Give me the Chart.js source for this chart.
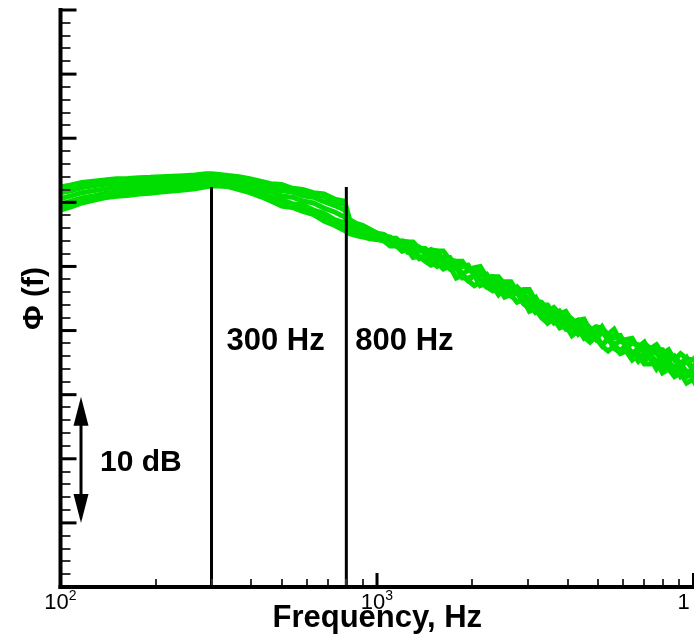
<!DOCTYPE html>
<html><head><meta charset="utf-8">
<script src="https://cdn.jsdelivr.net/npm/chart.js@4.4.1/dist/chart.umd.min.js"></script>
<style>html,body{margin:0;padding:0;background:#fff;overflow:hidden}#wrap{width:694px;height:640px;position:relative}</style>
</head><body><div id="wrap"><canvas id="c" width="694" height="640"></canvas></div>
<script>
// ---- data ----
const freqs = [100,108,117,127,138,150,163,177,192,208,226,245,266,288,300,312,338,366,396,428,462,500,540,583,630,680,735,790,820,860,900,950,
  1000,1050,1100,1150,1200,1250,1300,1360,1420,1480,1550,1620,1700,1780,1860,1940,2030,2120,2220,2320,2420,2530,2650,2770,2900,
  3030,3170,3310,3460,3620,3780,3950,4130,4320,4510,4710,4920,5140,5370,5610,5870,6130,6400,6690,6990,7310,7640,7980,8340,8710,9100,9510,9940,10200];
const runA = [31.2,31.35,31.55,31.65,31.75,31.83,31.86,31.92,31.95,32.0,32.04,32.08,32.14,32.22,32.23,32.2,32.1,32.0,31.85,31.65,31.45,31.4,31.1,31.0,30.75,30.65,30.25,30.1,28.65,28.35,28.2,27.9,
  27.6,27.5,27.2,27.2,26.8,26.9,26.9,26.4,26.4,26.0,26.2,26.2,25.5,25.4,25.4,24.7,24.9,25.0,24.2,24.2,24.2,23.6,23.7,23.0,23.2,23.2,22.3,22.2,21.5,21.8,
  21.3,21.5,20.7,20.8,20.9,20.0,20.3,20.2,19.7,20.1,19.2,19.3,19.4,18.6,19.0,18.6,18.9,18.2,18.5,17.7,18.2,17.8,17.7,18.0];
const runF = [31.0,31.1,31.3,31.5,31.55,31.7,31.7,31.75,31.8,31.85,31.9,31.95,32.0,32.1,32.1,32.1,32.0,31.9,31.7,31.5,31.3,31.2,30.9,30.85,30.45,30.5,29.9,29.9,28.5,28.25,28.1,27.8,
  27.6,27.3,27.3,26.9,27.0,26.9,26.4,26.5,26.0,26.3,26.2,25.5,25.6,24.9,25.3,24.9,24.4,24.8,24.1,24.2,23.4,23.8,23.8,23.0,23.0,23.0,22.0,22.0,22.0,21.2,
  20.8,21.3,20.9,20.2,20.7,20.2,19.7,20.3,19.5,19.6,19.6,18.7,19.2,18.7,19.1,18.2,18.5,18.5,17.6,18.0,17.4,17.9,17.0,17.3];
const runB = [30.75,30.9,31.15,31.3,31.4,31.5,31.53,31.6,31.64,31.7,31.75,31.8,31.87,31.97,31.99,31.99,31.9,31.75,31.57,31.35,31.15,30.9,30.8,30.5,30.4,30.05,29.75,29.4,28.4,28.15,28.0,27.75,
  27.5,27.2,27.2,26.9,26.9,26.4,26.6,26.5,26.0,26.3,25.7,25.7,25.7,24.9,25.0,25.1,24.3,24.3,24.4,23.6,23.9,23.7,23.0,23.4,22.9,22.3,22.6,21.7,21.8,21.0,
  21.5,20.9,20.4,20.8,20.4,19.6,20.1,20.0,19.4,19.4,19.6,18.7,19.0,18.9,18.2,18.6,18.2,17.7,18.2,17.8,17.2,17.6,17.0,17.5];
const runC = [30.3,30.5,30.75,30.9,31.05,31.15,31.2,31.28,31.33,31.4,31.46,31.52,31.6,31.72,31.75,31.75,31.68,31.5,31.3,31.05,30.85,30.5,30.4,30.1,29.95,29.55,29.25,28.85,28.1,27.9,27.75,27.55,
  27.3,27.3,27.0,27.0,26.5,26.5,26.1,26.2,26.2,25.6,25.7,25.1,25.4,25.0,24.4,24.7,24.6,23.9,24.0,24.0,23.3,23.0,23.4,22.9,22.9,21.9,22.1,21.8,21.1,21.5,
  20.8,20.4,20.6,20.6,19.8,19.9,19.3,19.9,19.3,18.9,19.2,18.9,18.2,18.6,18.5,17.9,17.6,18.0,17.6,17.0,17.4,16.8,16.9,16.6];
const runD = [29.85,30.1,30.35,30.5,30.7,30.8,30.87,30.96,31.02,31.1,31.17,31.24,31.33,31.47,31.51,31.51,31.46,31.25,31.02,30.75,30.45,30.2,29.9,29.8,29.4,29.15,28.65,28.4,27.8,27.65,27.5,27.35,
  27.3,27.0,26.9,26.6,26.6,26.1,26.2,25.7,25.8,25.8,25.1,25.3,24.8,25.0,24.4,23.9,24.3,24.0,23.4,23.5,23.6,22.9,22.9,23.0,22.2,22.2,21.4,21.6,21.2,20.6,
  21.0,20.3,20.4,19.7,20.1,19.6,19.6,18.9,19.3,18.9,18.4,18.9,18.1,18.2,17.6,18.1,17.6,17.0,17.4,16.9,17.2,16.4,16.6,16.2];
const runG = [29.6,29.9,30.15,30.3,30.5,30.65,30.7,30.8,30.85,30.95,31.0,31.1,31.2,31.35,31.4,31.4,31.35,31.1,30.9,30.6,30.3,29.9,29.8,29.5,29.25,28.85,28.4,28.1,27.7,27.5,27.4,27.25,
  27.1,27.1,26.8,26.7,26.2,26.3,26.2,25.6,25.8,25.4,25.0,25.3,24.9,24.9,24.1,24.1,24.3,23.5,23.7,23.5,22.8,23.3,22.7,23.0,22.1,21.7,22.0,21.4,20.6,21.0,
  20.9,20.1,20.0,20.3,19.4,19.7,19.4,18.8,19.4,18.6,18.3,18.7,18.3,17.6,18.1,17.8,17.0,17.6,17.0,17.2,16.4,16.7,16.7,16.0];
const runE = [29.4,29.65,29.95,30.15,30.35,30.47,30.54,30.64,30.71,30.8,30.88,30.96,31.06,31.22,31.27,31.27,31.23,31.0,30.75,30.45,30.1,29.7,29.6,29.3,29.05,28.55,28.2,27.8,27.55,27.4,27.3,27.15,
  27.1,27.0,26.6,26.6,26.2,26.3,25.7,25.8,25.4,25.1,25.3,24.8,25.0,24.1,24.3,23.9,23.5,23.8,23.4,23.1,23.4,22.6,22.8,22.2,22.4,21.5,21.7,21.0,20.6,20.9,
  20.2,20.4,19.6,20.0,19.5,19.1,19.5,18.8,18.4,18.8,18.2,18.4,17.7,18.1,17.4,17.4,17.6,16.7,17.0,16.4,16.7,15.9,16.2,15.7];

const markerFreqs = [300, 800];
const markerLabels = ['300 Hz', '800 Hz'];
const markerTop = 31.2;
const markerLabelLevel = 18.5;

const xMajorTicks = [100, 1000, 10000];
const xTickBase = ['10', '10', '10'];
const xTickExp = ['2', '3', '4'];
const xMinorTicks = [200,300,400,500,600,700,800,900,2000,3000,4000,5000,6000,7000,8000,9000];
const yMajorTicks = [0,5,10,15,20,25,30,35,40,45];
const yMinorTicks = [1,2,3,4,6,7,8,9,11,12,13,14,16,17,18,19,21,22,23,24,26,27,28,29,31,32,33,34,36,37,38,39,41,42,43,44];
const scaleBar = [5, 15];
const scaleBarLabel = '10 dB';
const xTitle = 'Frequency, Hz';
const yTitle = '\u03A6 (f)';

// ---- chart ----
const bandColor = 'rgb(0,221,0)';
const FONT = '"Liberation Sans", Arial, Helvetica, sans-serif';
const runs = [runA, runF, runB, runC, runD, runG, runE];
const datasets = [];
markerFreqs.forEach(f => datasets.push({
  data: [{x: f, y: 0}, {x: f, y: markerTop}],
  borderColor: '#000', borderWidth: 3, pointRadius: 0, showLine: true, order: 0
}));
runs.forEach(r => datasets.push({
  data: freqs.map((f, i) => ({x: f, y: r[i]})),
  borderColor: bandColor, borderWidth: 5, pointRadius: 0, showLine: true, order: 1,
  borderJoinStyle: 'miter', tension: 0
}));

const axesPlugin = {
  id: 'axesPlugin',
  beforeDatasetsDraw(chart) { chart.ctx.miterLimit = 3; },
  afterDatasetsDraw(chart) {
    const ctx = chart.ctx, xs = chart.scales.x, ys = chart.scales.y, a = chart.chartArea;
    const seg = (x1, y1, x2, y2) => { ctx.beginPath(); ctx.moveTo(x1, y1); ctx.lineTo(x2, y2); ctx.stroke(); };
    ctx.save();
    ctx.lineCap = 'butt';
    // y minor ticks
    ctx.strokeStyle = '#333'; ctx.lineWidth = 2;
    yMinorTicks.forEach(v => { const y = Math.round(ys.getPixelForValue(v)); seg(a.left, y, a.left + 10, y); });
    // x minor ticks
    xMinorTicks.forEach(v => { const x = Math.round(xs.getPixelForValue(v)); seg(x, a.bottom, x, a.bottom - 8); });
    // majors
    ctx.strokeStyle = '#000'; ctx.lineWidth = 3;
    yMajorTicks.forEach(v => { const y = ys.getPixelForValue(v); seg(a.left, y, a.left + 16, y); });
    xMajorTicks.forEach(v => { const x = xs.getPixelForValue(v); seg(x, a.bottom, x, a.bottom - 14); });
    // axis lines
    ctx.lineWidth = 4;
    seg(a.left, a.top - 2, a.left, a.bottom + 2);
    seg(a.left - 2, a.bottom, a.right + 2, a.bottom);

    // x tick labels with superscripts (figure is cropped just right of the last label's first digit)
    ctx.save();
    ctx.beginPath(); ctx.rect(0, a.bottom, 689, chart.height - a.bottom); ctx.clip();
    ctx.fillStyle = '#000'; ctx.textBaseline = 'alphabetic'; ctx.textAlign = 'left';
    xMajorTicks.forEach((v, i) => {
      const x = xs.getPixelForValue(v);
      ctx.font = '22px ' + FONT; const wb = ctx.measureText(xTickBase[i]).width;
      ctx.font = '14px ' + FONT; const we = ctx.measureText(xTickExp[i]).width;
      const x0 = x - (wb + we) / 2;
      ctx.font = '22px ' + FONT; ctx.fillText(xTickBase[i], x0, a.bottom + 22);
      ctx.font = '14px ' + FONT; ctx.fillText(xTickExp[i], x0 + wb, a.bottom + 13);
    });
    ctx.restore();

    // axis titles
    ctx.fillStyle = '#000';
    ctx.font = 'bold 31px ' + FONT;
    ctx.textAlign = 'center'; ctx.textBaseline = 'alphabetic';
    ctx.fillText(xTitle, (a.left + a.right) / 2, a.bottom + 40);
    ctx.save();
    ctx.translate(35, (a.top + a.bottom) / 2);
    ctx.rotate(-Math.PI / 2);
    ctx.textBaseline = 'middle';
    ctx.font = 'bold 30px ' + FONT;
    ctx.fillText(yTitle, 0, 0);
    ctx.restore();

    // marker labels
    ctx.font = 'bold 31px ' + FONT; ctx.textAlign = 'left'; ctx.textBaseline = 'alphabetic';
    const dx = [15, 9];
    markerFreqs.forEach((f, i) => {
      ctx.fillText(markerLabels[i], xs.getPixelForValue(f) + dx[i], ys.getPixelForValue(markerLabelLevel));
    });

    // 10 dB scale bar
    const bx = a.left + 20.5;
    const yt = ys.getPixelForValue(scaleBar[1]) + 2, yb = ys.getPixelForValue(scaleBar[0]);
    ctx.lineWidth = 3;
    seg(bx, yt + 20, bx, yb - 20);
    ctx.beginPath(); ctx.moveTo(bx, yt); ctx.lineTo(bx - 7.5, yt + 29); ctx.lineTo(bx + 7.5, yt + 29); ctx.closePath(); ctx.fill();
    ctx.beginPath(); ctx.moveTo(bx, yb); ctx.lineTo(bx - 7.5, yb - 29); ctx.lineTo(bx + 7.5, yb - 29); ctx.closePath(); ctx.fill();
    ctx.font = 'bold 30px ' + FONT;
    ctx.fillText(scaleBarLabel, a.left + 39.5, ys.getPixelForValue((scaleBar[0] + scaleBar[1]) / 2) + 12);
    ctx.restore();
  }
};

new Chart(document.getElementById('c'), {
  type: 'scatter',
  data: { datasets },
  options: {
    responsive: false, animation: false, devicePixelRatio: 1, events: [],
    layout: { padding: { left: 60.5, right: 0, top: 10, bottom: 53 } },
    plugins: { legend: { display: false }, tooltip: { enabled: false } },
    scales: {
      x: { type: 'logarithmic', min: 100, max: 10036, display: false, bounds: 'data' },
      y: { type: 'linear', min: 0, max: 45, display: false, bounds: 'data' }
    }
  },
  plugins: [axesPlugin]
});
</script>
</body></html>
